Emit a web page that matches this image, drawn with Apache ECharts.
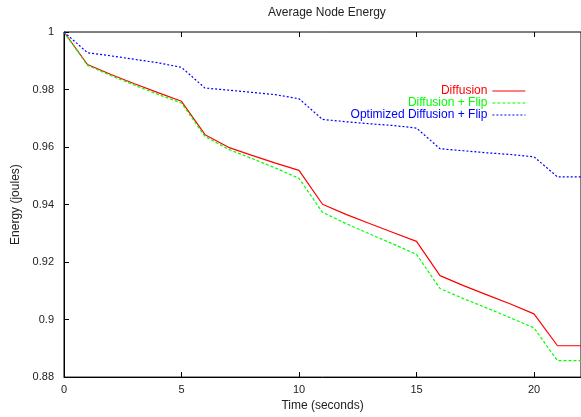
<!DOCTYPE html>
<html>
<head>
<meta charset="utf-8">
<script src="https://cdn.jsdelivr.net/npm/echarts@6/dist/echarts.min.js"></script>
<style>
  html, body { margin: 0; padding: 0; background: #fff; }
  #chart { width: 581px; height: 417px; }
</style>
</head>
<body>
<div id="chart"></div>
<script>
// time in seconds
const times = [0, 1, 2, 3, 4, 5, 6, 7, 8, 9, 10, 11, 12, 13, 14, 15, 16, 17, 18, 19, 20, 21, 22]

// average node energy (joules)
const diffusion = [1.0, 0.9887, 0.9852, 0.9820, 0.9789, 0.9759, 0.9643, 0.9599, 0.9571, 0.9544, 0.9519,
    0.9401, 0.9366, 0.9334, 0.9303, 0.9272, 0.9153, 0.9118, 0.9086, 0.9054, 0.9020, 0.8909, 0.8909]
const diffusionFlip = [1.0, 0.9884, 0.9848, 0.9815, 0.9783, 0.9753, 0.9637, 0.9592, 0.9560, 0.9527, 0.9491,
    0.9373, 0.9334, 0.9298, 0.9263, 0.9227, 0.9108, 0.9073, 0.9040, 0.9006, 0.8971, 0.8857, 0.8857]
const optimizedFlip = [1.0, 0.9928, 0.9917, 0.9905, 0.9893, 0.9877, 0.9805, 0.9798, 0.9790, 0.9782, 0.9768,
    0.9696, 0.9688, 0.9681, 0.9675, 0.9666, 0.9594, 0.9587, 0.9580, 0.9574, 0.9566, 0.9496, 0.9496]

const seriesNames = ['Diffusion', 'Diffusion + Flip', 'Optimized Diffusion + Flip']
const seriesColors = ['#ff0000', '#00ff00', '#0000ff']

const FONT = '"Liberation Sans", Arial, sans-serif'
const TEXT_COLOR = '#222'

const pair = (values) => times.map((t, i) => [t, values[i]])

const chart = echarts.init(document.getElementById('chart'))

const option = {
    animation: false,
    backgroundColor: '#fff',
    textStyle: { fontFamily: FONT },
    title: {
        text: 'Average Node Energy',
        left: 268,
        top: 7,
        padding: 0,
        textStyle: { fontSize: 12, fontWeight: 'normal', color: TEXT_COLOR, fontFamily: FONT }
    },
    legend: {
        orient: 'vertical',
        right: 50,
        top: 80,
        align: 'right',
        itemWidth: 33,
        itemHeight: 10,
        itemGap: 0,
        itemStyle: { opacity: 0 }, // line sample only, no marker
        lineStyle: { width: 1.2 },
        textStyle: { fontSize: 12, lineHeight: 12, fontFamily: FONT },
        data: seriesNames.map((name, i) => ({ name: name, textStyle: { color: seriesColors[i] } }))
    },
    grid: {
        left: 64,
        right: -8,
        top: 32,
        bottom: 35,
        show: true,
        borderColor: '#000',
        borderWidth: 1
    },
    xAxis: [{
        type: 'value',
        min: 0,
        max: 22,
        interval: 5,
        name: 'Time (seconds)',
        nameLocation: 'middle',
        nameGap: 21,
        nameTextStyle: { fontSize: 12, color: TEXT_COLOR },
        axisLine: { show: true, lineStyle: { color: '#000', width: 1 } },
        axisTick: { show: true, inside: true, length: 5, lineStyle: { color: '#000' } },
        axisLabel: { fontSize: 11, color: TEXT_COLOR, margin: 7, showMaxLabel: false },
        splitLine: { show: false }
    }, {
        // mirrored ticks on the top border
        type: 'value',
        position: 'top',
        min: 0,
        max: 22,
        interval: 5,
        axisLine: { show: false },
        axisTick: { show: true, inside: true, length: 5, lineStyle: { color: '#000' } },
        axisLabel: { show: false },
        splitLine: { show: false }
    }],
    yAxis: {
        type: 'value',
        min: 0.88,
        max: 1,
        interval: 0.02,
        name: 'Energy (joules)',
        nameLocation: 'middle',
        nameGap: 42,
        nameTextStyle: { fontSize: 12, color: TEXT_COLOR },
        axisLine: { show: true, lineStyle: { color: '#000', width: 1 } },
        axisTick: { show: true, inside: true, length: 5, lineStyle: { color: '#000' } },
        axisLabel: {
            fontSize: 11,
            color: TEXT_COLOR,
            margin: 10,
            formatter: (v) => String(+v.toFixed(2))
        },
        splitLine: { show: false }
    },
    series: [{
        name: seriesNames[0],
        type: 'line',
        data: pair(diffusion),
        symbol: 'none',
        color: seriesColors[0],
        lineStyle: { width: 1.2, type: 'solid' }
    }, {
        name: seriesNames[1],
        type: 'line',
        data: pair(diffusionFlip),
        symbol: 'none',
        color: seriesColors[1],
        lineStyle: { width: 1.2, type: [3, 2] }
    }, {
        name: seriesNames[2],
        type: 'line',
        data: pair(optimizedFlip),
        symbol: 'none',
        color: seriesColors[2],
        lineStyle: { width: 1.2, type: [2, 2] }
    }]
}

chart.setOption(option)
</script>
</body>
</html>
